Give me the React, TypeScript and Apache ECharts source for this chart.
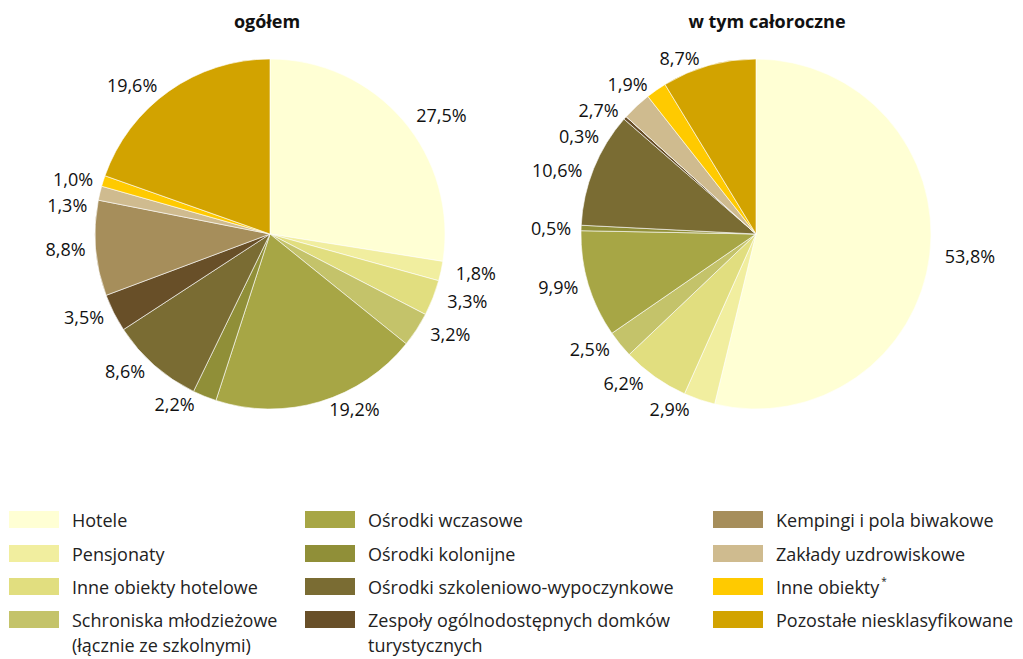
import React, { useEffect, useRef } from "react";
import * as echarts from "echarts";

const categories = [
  "Hotele",
  "Pensjonaty",
  "Inne obiekty hotelowe",
  "Schroniska młodzieżowe (łącznie ze szkolnymi)",
  "Ośrodki wczasowe",
  "Ośrodki kolonijne",
  "Ośrodki szkoleniowo-wypoczynkowe",
  "Zespoły ogólnodostępnych domków turystycznych",
  "Kempingi i pola biwakowe",
  "Zakłady uzdrowiskowe",
  "Inne obiekty",
  "Pozostałe niesklasyfikowane",
];

const legendLabels = [
  "Hotele",
  "Pensjonaty",
  "Inne obiekty hotelowe",
  "Schroniska młodzieżowe\n(łącznie ze szkolnymi)",
  "Ośrodki wczasowe",
  "Ośrodki kolonijne",
  "Ośrodki szkoleniowo-wypoczynkowe",
  "Zespoły ogólnodostępnych domków\nturystycznych",
  "Kempingi i pola biwakowe",
  "Zakłady uzdrowiskowe",
  "Inne obiekty{sup|*}",
  "Pozostałe niesklasyfikowane",
];

const colors = [
  "#FFFFD4",
  "#F1EE9F",
  "#E1DE7F",
  "#C4C36A",
  "#A7A645",
  "#908F38",
  "#7A6C33",
  "#684F28",
  "#A68E5B",
  "#CFBB8F",
  "#FFCA00",
  "#D2A300",
];

const totalValues = [27.5, 1.8, 3.3, 3.2, 19.2, 2.2, 8.6, 3.5, 8.8, 1.3, 1.0, 19.6];
const yearRoundValues = [53.8, 2.9, 6.2, 2.5, 9.9, 0.5, 10.6, 0.3, 0, 2.7, 1.9, 8.7];

const titles = ["ogółem", "w tym całoroczne"];

const FONT = "'Open Sans', Lato, sans-serif";

function makeSeries(values: number[], center: [number, number]) {
  return {
    type: "pie",
    center,
    radius: 175,
    startAngle: 90,
    clockwise: true,
    avoidLabelOverlap: true,
    stillShowZeroSum: true,
    data: values.map((v, i) => ({
      name: categories[i],
      value: v,
      itemStyle: { color: colors[i] },
    })),
    itemStyle: { borderColor: "#ffffff", borderWidth: 0.6 },
    label: {
      show: true,
      position: "outside",
      color: "#111",
      fontSize: 18,
      lineHeight: 18,
      padding: [3, 0, 3, 0],
      fontFamily: FONT,
      formatter: (p: any) => (p.value ? p.value.toFixed(1).replace(".", ",") + "%" : ""),
    },
    labelLine: { show: false, length: 8, length2: 2 },
    emphasis: { disabled: true },
  };
}

export default function App() {
  const ref = useRef<HTMLDivElement>(null);

  useEffect(() => {
    document.body.style.margin = "0";
    if (!ref.current) return;
    const chart = echarts.init(ref.current, null, { renderer: "svg" });

    const colX = [9, 305, 713];
    const rowY = [519, 553, 586, 619];
    const legendGraphics: any[] = [];
    categories.forEach((_, i) => {
      const col = Math.floor(i / 4);
      const row = i % 4;
      const x = colX[col];
      const y = rowY[row];
      legendGraphics.push({
        type: "rect",
        shape: { x, y: y - 8, width: 50, height: 17 },
        style: { fill: colors[i] },
      });
      legendGraphics.push({
        type: "text",
        x: x + 63,
        y: y - 12,
        style: {
          text: legendLabels[i],
          fill: "#222",
          fontSize: 18,
          fontFamily: FONT,
          lineHeight: 25,
          verticalAlign: "top",
          rich: {
            sup: { fontSize: 10, padding: [0, 0, 12, 2], fill: "#222", fontFamily: FONT },
          },
        },
      });
    });

    chart.setOption({
      animation: false,
      backgroundColor: "#ffffff",
      title: [
        {
          text: titles[0],
          left: 262,
          top: 7,
          textAlign: "center",
          textStyle: { fontSize: 18, fontWeight: "bold", fontFamily: FONT, color: "#111" },
        },
        {
          text: titles[1],
          left: 762,
          top: 7,
          textAlign: "center",
          textStyle: { fontSize: 18, fontWeight: "bold", fontFamily: FONT, color: "#111" },
        },
      ],
      series: [makeSeries(totalValues, [270, 234]), makeSeries(yearRoundValues, [756, 234])],
      graphic: legendGraphics,
    });

    return () => chart.dispose();
  }, []);

  return <div ref={ref} style={{ width: 1023, height: 659 }} />;
}
